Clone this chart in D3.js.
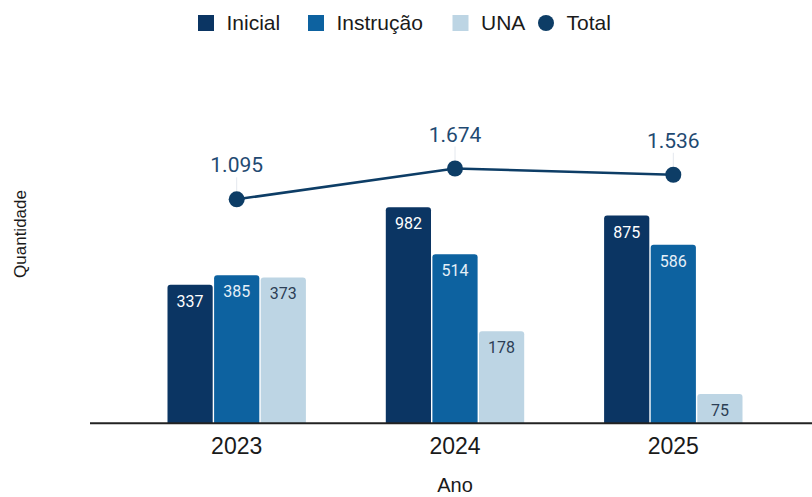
<!DOCTYPE html>
<html>
<head>
<meta charset="utf-8">
<script src="https://cdn.jsdelivr.net/npm/d3@7"></script>
<style>
  html, body { margin: 0; padding: 0; background: #ffffff; }
  svg { display: block; }
</style>
</head>
<body>
<svg id="chart" width="812" height="497"></svg>
<script>
// Anos e séries
const years = ["2023", "2024", "2025"];
const series = ["Inicial", "Instrução", "UNA"];
const inicial = [337, 982, 875];
const instrucao = [385, 514, 586];
const una = [373, 178, 75];
const total = [1095, 1674, 1536];

const colors = { "Inicial": "#0b3563", "Instrução": "#0d62a0", "UNA": "#bdd5e4" };
const labelColors = { "Inicial": "#ffffff", "Instrução": "#e6f0f8", "UNA": "#2c3e55" };
const totalColor = "#0d3d66";

const fmt = d3.formatLocale({ decimal: ",", thousands: ".", grouping: [3], currency: ["R$", ""] }).format(",d");

const rows = years.map((y, i) => ({
  year: y,
  values: [
    { key: "Inicial", value: inicial[i] },
    { key: "Instrução", value: instrucao[i] },
    { key: "UNA", value: una[i] }
  ],
  total: total[i]
}));

const svg = d3.select("#chart");
const plotLeft = 90, plotRight = 820, baseY = 423.3;

const x0 = d3.scaleBand().domain(years).range([plotLeft, plotRight])
  .paddingInner(0.366).paddingOuter(0.355);
const x1 = d3.scaleBand().domain(series).range([0, x0.bandwidth()]).paddingInner(0.03);
const y = d3.scaleLog().domain([50, 2000]).range([baseY, baseY - 167.1 * Math.log10(40)]);

// Barras com cantos superiores arredondados
function topRounded(x, yTop, w, h, r) {
  r = Math.min(r, h, w / 2);
  return `M${x},${yTop + h}V${yTop + r}Q${x},${yTop} ${x + r},${yTop}H${x + w - r}Q${x + w},${yTop} ${x + w},${yTop + r}V${yTop + h}Z`;
}

const groups = svg.append("g").selectAll("g").data(rows).join("g")
  .attr("transform", d => `translate(${x0(d.year)},0)`);

groups.selectAll("path").data(d => d.values).join("path")
  .attr("d", d => topRounded(x1(d.key), y(d.value), x1.bandwidth(), baseY - y(d.value), 3))
  .attr("fill", d => colors[d.key]);

groups.selectAll("text.val").data(d => d.values).join("text")
  .attr("class", "val")
  .attr("x", d => x1(d.key) + x1.bandwidth() / 2)
  .attr("y", d => y(d.value) + 22)
  .attr("text-anchor", "middle")
  .attr("font-family", "Roboto, sans-serif")
  .attr("font-size", 16)
  .attr("fill", d => labelColors[d.key])
  .text(d => fmt(d.value));

// Eixo X
const xAxis = svg.append("g")
  .attr("transform", `translate(0,${baseY})`)
  .call(d3.axisBottom(x0).tickSize(0).tickPadding(14));
xAxis.select(".domain").attr("stroke", "#222").attr("stroke-width", 2)
  .attr("d", `M${plotLeft},0H${plotRight}`);
xAxis.selectAll("text")
  .attr("font-family", "'Liberation Sans', Arial, sans-serif")
  .attr("font-size", 23)
  .attr("fill", "#1a1a1a")
  .attr("dy", "0.71em");

// Linha do total
const cx = d => x0(d.year) + x0.bandwidth() / 2;
svg.append("path")
  .datum(rows)
  .attr("fill", "none")
  .attr("stroke", totalColor)
  .attr("stroke-width", 2.5)
  .attr("d", d3.line().x(cx).y(d => y(d.total)));

svg.append("g").selectAll("line").data(rows).join("line")
  .attr("x1", cx).attr("x2", cx)
  .attr("y1", d => y(d.total) - 22).attr("y2", d => y(d.total) - 8)
  .attr("stroke", "#e4e8ee").attr("stroke-width", 1);

svg.append("g").selectAll("circle").data(rows).join("circle")
  .attr("cx", cx).attr("cy", d => y(d.total)).attr("r", 8)
  .attr("fill", totalColor);

svg.append("g").selectAll("text").data(rows).join("text")
  .attr("x", cx)
  .attr("y", d => y(d.total) - 27)
  .attr("text-anchor", "middle")
  .attr("font-family", "Roboto, sans-serif")
  .attr("font-size", 21)
  .attr("fill", "#1f4a72")
  .text(d => fmt(d.total));

// Títulos dos eixos
svg.append("text")
  .attr("x", (plotLeft + plotRight) / 2)
  .attr("y", 492)
  .attr("text-anchor", "middle")
  .attr("font-family", "'Liberation Sans', Arial, sans-serif")
  .attr("font-size", 20)
  .attr("fill", "#1a1a1a")
  .text("Ano");

svg.append("text")
  .attr("transform", "translate(26,234) rotate(-90)")
  .attr("text-anchor", "middle")
  .attr("font-family", "'Liberation Sans', Arial, sans-serif")
  .attr("font-size", 17)
  .attr("fill", "#1a1a1a")
  .text("Quantidade");

// Legenda
const legendItems = [
  { label: "Inicial", color: colors["Inicial"], shape: "rect", x: 198 },
  { label: "Instrução", color: colors["Instrução"], shape: "rect", x: 308 },
  { label: "UNA", color: colors["UNA"], shape: "rect", x: 452.5 },
  { label: "Total", color: totalColor, shape: "circle", x: 538 }
];
const legend = svg.append("g").selectAll("g").data(legendItems).join("g")
  .attr("transform", d => `translate(${d.x},0)`);
legend.filter(d => d.shape === "rect").append("rect")
  .attr("x", 0).attr("y", 15).attr("width", 16).attr("height", 16)
  .attr("fill", d => d.color);
legend.filter(d => d.shape === "circle").append("circle")
  .attr("cx", 8).attr("cy", 23).attr("r", 8)
  .attr("fill", d => d.color);
legend.append("text")
  .attr("x", 28.5).attr("y", 30)
  .attr("font-family", "'Liberation Sans', Arial, sans-serif")
  .attr("font-size", 21)
  .attr("fill", "#1a1a1a")
  .text(d => d.label);
</script>
</body>
</html>
